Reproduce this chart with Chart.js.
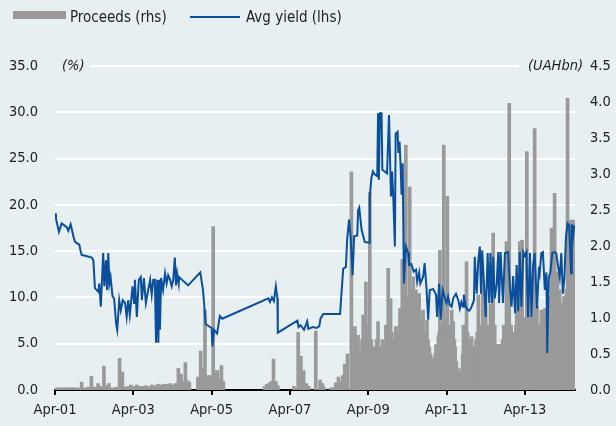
<!DOCTYPE html>
<html><head><meta charset="utf-8">
<script src="https://cdn.jsdelivr.net/npm/chart.js@4.4.1/dist/chart.umd.min.js"></script>
<style>
html,body{margin:0;padding:0;background:#e7eff0;}
#wrap{position:relative;width:616px;height:426px;overflow:hidden;background:#e7eff0;}
canvas{position:absolute;left:0;top:0;}
.lt{position:absolute;top:7px;font-family:'DejaVu Sans Condensed',sans-serif;font-size:15px;line-height:20px;color:#222;white-space:nowrap;}
.box{position:absolute;left:13px;top:11px;width:53px;height:8px;background:#999999;}
.ln{position:absolute;left:190px;top:16px;width:50px;height:2px;background:#0a4f9c;}
</style></head><body>
<div id="wrap">
<canvas id="c" width="616" height="426"></canvas>
<div class="box"></div><div class="lt" style="left:70px">Proceeds (rhs)</div>
<div class="ln"></div><div class="lt" style="left:246px">Avg yield (lhs)</div>
</div>
<script>
// x in decimal years
const xTickValues = [2001.25, 2003.25, 2005.25, 2007.25, 2009.25, 2011.25, 2013.25];
const xTickLabels = ['Apr-01', 'Apr-03', 'Apr-05', 'Apr-07', 'Apr-09', 'Apr-11', 'Apr-13'];

const yieldDates = [2001.27,2001.28,2001.35,2001.42,2001.55,2001.59,2001.65,2001.72,2001.76,2001.80,2001.87,2001.91,2001.93,2002.02,2002.19,2002.23,2002.27,2002.36,2002.38,2002.42,2002.48,2002.51,2002.55,2002.58,2002.61,2002.64,2002.67,2002.72,2002.76,2002.81,2002.84,2002.89,2002.93,2002.98,2003.04,2003.08,2003.12,2003.16,2003.23,2003.27,2003.29,2003.34,2003.39,2003.44,2003.47,2003.52,2003.57,2003.63,2003.68,2003.72,2003.76,2003.80,2003.83,2003.86,2003.89,2003.91,2003.93,2003.96,2004.01,2004.06,2004.10,2004.14,2004.19,2004.23,2004.27,2004.31,2004.34,2004.37,2004.41,2004.42,2004.65,2004.96,2005.03,2005.10,2005.25,2005.27,2005.31,2005.39,2005.46,2005.52,2006.70,2006.74,2006.79,2006.84,2006.89,2006.93,2006.94,2007.44,2007.47,2007.52,2007.61,2007.69,2007.72,2007.83,2007.93,2008.00,2008.03,2008.10,2008.53,2008.61,2008.68,2008.71,2008.76,2008.80,2008.85,2008.89,2008.97,2008.99,2009.02,2009.08,2009.16,2009.27,2009.29,2009.33,2009.37,2009.41,2009.48,2009.50,2009.52,2009.55,2009.59,2009.61,2009.67,2009.73,2009.78,2009.83,2009.86,2009.89,2009.93,2009.95,2010.00,2010.02,2010.05,2010.08,2010.10,2010.13,2010.16,2010.21,2010.27,2010.29,2010.35,2010.41,2010.47,2010.50,2010.55,2010.58,2010.65,2010.69,2010.74,2010.78,2010.82,2010.91,2010.98,2011.01,2011.06,2011.10,2011.15,2011.21,2011.25,2011.29,2011.33,2011.38,2011.42,2011.49,2011.55,2011.59,2011.63,2011.67,2011.69,2011.74,2011.80,2011.84,2011.89,2011.95,2011.97,2012.02,2012.06,2012.10,2012.13,2012.16,2012.21,2012.25,2012.30,2012.34,2012.37,2012.41,2012.44,2012.48,2012.53,2012.57,2012.59,2012.63,2012.69,2012.74,2012.82,2012.87,2012.91,2012.95,2013.00,2013.04,2013.08,2013.12,2013.16,2013.21,2013.25,2013.29,2013.33,2013.38,2013.42,2013.46,2013.50,2013.56,2013.61,2013.63,2013.67,2013.71,2013.76,2013.80,2013.82,2013.86,2013.90,2013.95,2014.01,2014.05,2014.09,2014.14,2014.18,2014.22,2014.26,2014.30,2014.34,2014.38,2014.43,2014.45,2014.48,2014.51];
const yieldValues = [19.1,18.4,17.1,18.0,17.6,17.2,17.9,16.6,16.0,15.9,15.7,14.9,14.6,14.5,14.3,14.0,11.0,10.6,11.5,9.0,14.8,11.2,14.0,10.8,14.8,11.5,12.2,10.1,9.9,7.2,6.5,9.7,8.6,9.7,9.4,7.9,9.7,8.1,11.2,9.4,11.9,7.9,11.9,12.2,9.7,12.1,9.4,10.8,11.9,10.3,11.9,11.9,5.1,11.9,5.1,11.9,6.5,12.1,10.8,12.6,11.5,12.4,11.9,11.2,11.9,14.3,11.3,12.6,11.5,12.2,11.3,12.7,10.8,7.1,6.7,4.7,6.5,6.1,8.0,7.7,9.9,9.5,10.0,9.6,11.2,9.9,6.2,7.5,6.8,7.0,6.5,7.4,6.6,6.8,6.7,6.9,7.7,8.2,8.2,13.1,13.3,16.2,18.4,16.6,12.4,16.6,16.7,19.4,19.7,17.3,16.0,15.9,20.9,22.9,23.6,23.3,23.1,29.9,22.7,29.9,29.9,23.8,23.6,23.4,29.7,20.9,23.6,20.7,15.5,27.7,27.9,25.6,26.8,23.8,21.1,24.5,11.5,15.5,14.8,13.5,13.6,12.8,13.0,11.7,12.7,11.5,12.2,13.7,10.8,7.6,10.8,10.9,10.3,7.9,11.5,7.6,10.8,9.9,9.4,10.1,9.2,9.0,9.9,10.4,9.7,8.8,9.5,9.0,10.3,9.0,8.6,8.6,9.0,9.7,14.4,10.4,14.0,15.5,10.4,15.1,11.1,7.9,14.8,9.4,14.8,9.4,14.4,9.9,11.5,14.9,9.4,14.9,9.4,14.8,14.9,11.0,9.0,12.3,8.3,13.5,8.5,14.9,9.0,14.9,14.5,14.9,7.9,14.8,7.9,13.5,14.8,8.8,13.3,12.7,14.8,14.9,10.8,12.7,4.0,12.1,12.7,14.8,14.9,14.8,13.6,12.2,14.8,10.4,12.2,16.6,18.0,17.8,12.6,17.9,16.6,17.8];

const proceedsDates = [2001.27,2001.33,2001.40,2001.46,2001.52,2001.58,2001.65,2001.71,2001.77,2001.83,2001.93,2001.99,2002.09,2002.18,2002.27,2002.35,2002.42,2002.50,2002.56,2002.63,2002.73,2002.81,2002.90,2002.97,2003.04,2003.11,2003.19,2003.27,2003.34,2003.42,2003.50,2003.57,2003.65,2003.73,2003.80,2003.88,2003.96,2004.03,2004.11,2004.19,2004.26,2004.33,2004.40,2004.47,2004.52,2004.58,2004.63,2004.68,2004.90,2004.97,2005.03,2005.08,2005.16,2005.21,2005.29,2005.35,2005.40,2005.45,2005.50,2005.55,2006.60,2006.66,2006.73,2006.78,2006.83,2006.89,2006.94,2007.35,2007.46,2007.53,2007.60,2007.67,2007.73,2007.91,2008.02,2008.08,2008.12,2008.30,2008.36,2008.42,2008.49,2008.55,2008.60,2008.65,2008.72,2008.82,2008.87,2008.91,2008.95,2008.99,2009.03,2009.06,2009.09,2009.12,2009.16,2009.19,2009.24,2009.29,2009.33,2009.36,2009.39,2009.42,2009.46,2009.50,2009.54,2009.57,2009.61,2009.65,2009.68,2009.70,2009.73,2009.76,2009.79,2009.82,2009.85,2009.88,2009.92,2009.95,2009.98,2010.01,2010.04,2010.06,2010.09,2010.12,2010.14,2010.16,2010.19,2010.21,2010.24,2010.26,2010.28,2010.31,2010.34,2010.36,2010.38,2010.40,2010.43,2010.47,2010.49,2010.51,2010.53,2010.55,2010.58,2010.61,2010.63,2010.65,2010.68,2010.70,2010.73,2010.75,2010.78,2010.81,2010.84,2010.86,2010.90,2010.93,2010.96,2010.98,2011.01,2011.04,2011.06,2011.08,2011.11,2011.13,2011.16,2011.18,2011.21,2011.23,2011.25,2011.27,2011.30,2011.32,2011.35,2011.38,2011.40,2011.42,2011.45,2011.47,2011.50,2011.53,2011.56,2011.58,2011.61,2011.63,2011.66,2011.68,2011.70,2011.72,2011.74,2011.76,2011.79,2011.81,2011.85,2011.89,2011.92,2011.95,2011.98,2012.00,2012.03,2012.06,2012.09,2012.11,2012.14,2012.17,2012.20,2012.22,2012.25,2012.28,2012.31,2012.34,2012.37,2012.41,2012.44,2012.46,2012.48,2012.51,2012.53,2012.56,2012.59,2012.62,2012.65,2012.68,2012.71,2012.75,2012.78,2012.82,2012.85,2012.88,2012.90,2012.93,2012.95,2012.97,2012.99,2013.02,2013.04,2013.06,2013.08,2013.10,2013.12,2013.15,2013.18,2013.22,2013.25,2013.28,2013.30,2013.32,2013.34,2013.37,2013.39,2013.42,2013.44,2013.47,2013.50,2013.53,2013.56,2013.59,2013.62,2013.65,2013.67,2013.70,2013.72,2013.74,2013.76,2013.79,2013.82,2013.85,2013.87,2013.90,2013.93,2013.96,2013.98,2014.01,2014.05,2014.08,2014.11,2014.14,2014.17,2014.19,2014.22,2014.25,2014.29,2014.31,2014.34,2014.36,2014.38,2014.42,2014.45,2014.48,2014.51];
const proceedsValues = [0.03,0.03,0.03,0.03,0.03,0.03,0.03,0.03,0.03,0.03,0.11,0.03,0.04,0.19,0.04,0.09,0.05,0.33,0.06,0.09,0.03,0.04,0.44,0.25,0.04,0.05,0.07,0.05,0.07,0.05,0.05,0.06,0.05,0.07,0.06,0.08,0.07,0.08,0.08,0.09,0.07,0.09,0.30,0.22,0.12,0.38,0.13,0.11,0.18,0.54,0.30,1.11,0.20,0.20,2.27,0.27,0.27,0.15,0.34,0.12,0.05,0.08,0.10,0.12,0.43,0.12,0.06,0.05,0.80,0.47,0.27,0.09,0.05,0.82,0.14,0.09,0.04,0.03,0.03,0.10,0.18,0.12,0.20,0.36,0.50,3.03,0.50,0.88,0.60,0.76,0.50,0.40,0.70,1.04,0.80,1.50,0.90,2.75,0.70,0.50,0.60,0.30,0.70,0.95,0.60,0.40,0.70,0.50,0.60,0.90,0.90,1.69,1.00,1.27,0.80,0.60,0.70,0.88,0.80,0.70,0.90,1.13,1.00,1.81,1.10,1.00,1.20,3.40,1.30,1.30,1.20,2.82,1.20,1.40,1.30,1.57,1.20,1.39,1.10,1.20,1.00,1.34,1.00,0.90,0.90,1.11,0.80,0.80,0.80,0.97,0.70,0.60,0.50,0.40,0.40,0.45,0.50,0.63,0.60,0.74,0.80,1.94,0.90,0.90,0.90,3.40,0.90,1.00,1.00,2.69,0.80,0.80,0.90,1.11,0.90,0.95,0.70,0.60,0.40,0.30,0.25,0.25,0.25,0.30,0.50,0.90,0.80,0.90,0.90,1.78,0.80,0.70,0.70,0.74,0.60,0.50,0.60,0.70,0.80,1.32,0.90,0.90,0.90,1.53,0.80,0.80,1.16,0.90,0.90,0.90,1.20,1.00,2.18,0.90,0.90,0.63,0.63,0.63,0.63,0.63,0.63,0.70,0.90,0.90,2.06,0.90,3.98,0.90,0.90,0.60,0.60,0.70,0.80,0.90,1.30,1.00,1.00,1.00,2.06,1.00,2.08,1.00,1.00,1.00,3.31,1.10,1.20,1.10,1.44,1.00,1.00,1.00,3.63,1.00,1.16,0.90,0.90,0.90,1.11,1.00,1.00,1.00,1.13,1.10,1.13,1.10,1.30,1.20,2.25,1.20,1.30,2.73,1.30,1.64,1.30,1.39,1.20,1.20,1.20,1.30,1.30,1.40,4.05,1.50,1.80,2.36,1.80,2.36,2.04];

const leftTicks = {min: 0, max: 35, step: 5};
const rightTicks = {min: 0, max: 4.5, step: 0.5};

const BG = '#e7eff0';
const FONT = "'DejaVu Sans Condensed',sans-serif";

const unitPlugin = {
  id: 'units',
  beforeDatasetsDraw(chart) {
    const {ctx, chartArea} = chart;
    ctx.save();
    ctx.fillStyle = BG;
    ctx.fillRect(chartArea.left, chartArea.top - 2, 35, 4);
    ctx.fillRect(519, chartArea.top - 2, chartArea.right - 519 + 1, 4);
    ctx.restore();
  },
  afterDraw(chart) {
    const {ctx, chartArea} = chart;
    ctx.save();
    ctx.fillStyle = '#222';
    ctx.font = "italic 14.5px " + FONT;
    ctx.textBaseline = 'middle';
    ctx.textAlign = 'left';
    ctx.fillText('(%)', 62, chartArea.top);
    ctx.fillText('(UAHbn)', 528, chartArea.top);
    ctx.restore();
  }
};

new Chart(document.getElementById('c'), {
  type: 'bar',
  data: {
    datasets: [
      {
        type: 'line', label: 'Avg yield (lhs)',
        data: yieldDates.map((d, i) => ({x: d, y: yieldValues[i]})),
        borderColor: '#0a4f9c', borderWidth: 2, pointRadius: 0, tension: 0,
        yAxisID: 'y', order: 1
      },
      {
        type: 'bar', label: 'Proceeds (rhs)',
        data: proceedsDates.map((d, i) => ({x: d, y: proceedsValues[i]})),
        backgroundColor: '#9a9a9a', borderWidth: 0, barThickness: 3,
        yAxisID: 'y2', order: 2
      }
    ]
  },
  options: {
    responsive: false, animation: false, devicePixelRatio: 1,
    layout: {padding: {top: 66, left: 0, right: 0, bottom: 0}},
    plugins: {legend: {display: false}, tooltip: {enabled: false}},
    scales: {
      x: {
        type: 'linear', min: 2001.25, max: 2014.53, offset: false,
        afterBuildTicks: (axis) => { axis.ticks = xTickValues.map(v => ({value: v})); },
        afterFit: (s) => { s.height = 36; },
        ticks: {
          autoSkip: false, maxRotation: 0, padding: 7, color: '#222',
          font: {family: FONT, size: 14.5},
          callback: (v, i) => xTickLabels[i]
        },
        grid: {display: true, drawOnChartArea: false, drawTicks: true, tickLength: 5, color: '#000', lineWidth: 2, offset: false},
        border: {display: true, color: '#000', width: 2}
      },
      y: {
        position: 'left', min: leftTicks.min, max: leftTicks.max,
        afterFit: (s) => { s.width = 55; },
        ticks: {stepSize: leftTicks.step, padding: 17, color: '#222', font: {family: FONT, size: 14.5}, callback: v => v.toFixed(1)},
        grid: {color: '#ffffff', lineWidth: 2, drawTicks: false},
        border: {display: false}
      },
      y2: {
        position: 'right', min: rightTicks.min, max: rightTicks.max,
        afterFit: (s) => { s.width = 41; },
        ticks: {stepSize: rightTicks.step, padding: 15, color: '#222', font: {family: FONT, size: 14.5}, callback: v => v.toFixed(1)},
        grid: {display: false, drawTicks: false},
        border: {display: false}
      }
    }
  },
  plugins: [unitPlugin]
});
</script>
</body></html>
